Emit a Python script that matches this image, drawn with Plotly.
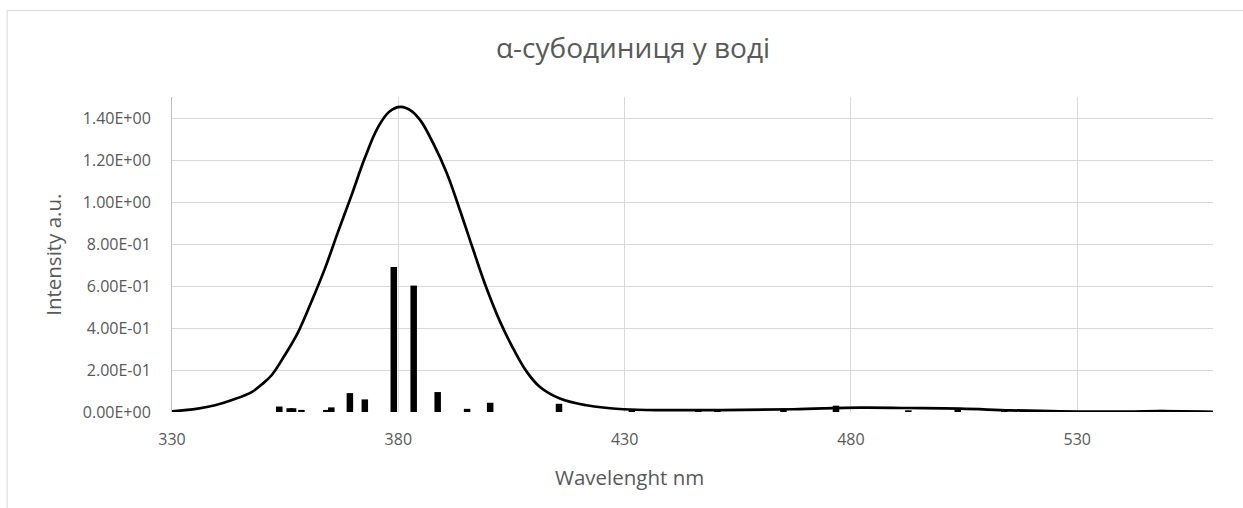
import plotly.graph_objects as go

# Broadened absorption envelope (wavelength in nm, intensity in a.u.)
curve_nm = [330, 335.7, 339.5, 343.1, 347.6, 349.8, 352.0, 354.9, 357.9,
            360.8, 363.8, 366.7, 369.7, 372.6, 375.5, 378.0, 380.5, 383.0, 385.0,
            387.7, 390.7, 393.6, 396.5, 399.5, 402.5, 405.4, 408.4, 411.3, 415.7,
            421.6, 429.7, 440.0, 451.1, 467.2, 482.0, 492.6, 504.1, 515.2, 526.2,
            541.0, 548.3, 560.0]
curve_int = [0.003, 0.016, 0.032, 0.056, 0.095, 0.131, 0.175, 0.270, 0.382,
             0.525, 0.684, 0.859, 1.034, 1.209, 1.355, 1.430, 1.453, 1.432, 1.385,
             1.280, 1.138, 0.962, 0.776, 0.589, 0.429, 0.302, 0.191, 0.119, 0.064,
             0.032, 0.013, 0.009, 0.009, 0.013, 0.021, 0.019, 0.016, 0.008, 0.003,
             0.002, 0.004, 0.001]

# Individual transitions (stick spectrum)
stick_nm = [353.7, 356.0, 356.75, 358.6, 364.1, 365.2, 369.3, 372.6, 379.0, 383.4,
            388.7, 395.2, 400.3, 415.5, 431.6, 446.3, 450.5, 465.1, 476.7, 492.7,
            503.6, 513.9, 548.6]
stick_int = [0.026, 0.018, 0.018, 0.010, 0.010, 0.022, 0.090, 0.060, 0.690, 0.602,
             0.095, 0.015, 0.044, 0.039, 0.008, 0.008, 0.008, 0.010, 0.030, 0.008,
             0.010, 0.008, 0.010]

y_tickvals = [0, 0.2, 0.4, 0.6, 0.8, 1.0, 1.2, 1.4]
y_ticktext = ["0.00E+00", "2.00E-01", "4.00E-01", "6.00E-01", "8.00E-01",
              "1.00E+00", "1.20E+00", "1.40E+00"]
x_tickvals = [330, 380, 430, 480, 530]

title_text = "α-субодиниця у воді"
x_title = "Wavelenght nm"
y_title = "Intensity a.u."

FONT = "Open Sans, Noto Sans, sans-serif"
GREY = "#595959"
GRID = "#d9d9d9"

# Stick segments from the baseline up to each intensity
seg_x, seg_y = [], []
for w, v in zip(stick_nm, stick_int):
    seg_x += [w, w, None]
    seg_y += [0, v, None]

fig = go.Figure()
fig.add_trace(go.Scatter(x=seg_x, y=seg_y, mode="lines",
                         line=dict(color="black", width=6.5),
                         hoverinfo="skip", showlegend=False))
fig.add_trace(go.Scatter(x=curve_nm, y=curve_int, mode="lines",
                         line=dict(color="black", width=2.7, shape="spline", smoothing=1.1),
                         showlegend=False))

W, H = 1243, 508
L, R, T, B = 172.3, 30, 97, 96.3
pw = W - L - R
ph = H - T - B


def px_x(px):
    return (px - L) / pw


def px_y(py):
    return (H - B - py) / ph


fig.update_layout(
    width=W, height=H,
    margin=dict(l=L, r=R, t=T, b=B, pad=0),
    paper_bgcolor="white", plot_bgcolor="white",
    font=dict(family=FONT, color=GREY, size=16),
    title=dict(text=title_text, x=633 / W, xref="container", xanchor="center",
               y=1 - 48 / H, yref="container", yanchor="middle",
               font=dict(family=FONT, size=28, color=GREY)),
    xaxis=dict(range=[330, 560], tickvals=x_tickvals, showgrid=True,
               gridcolor=GRID, gridwidth=1, zeroline=False, showline=False,
               ticks="", ticklabelstandoff=16,
               tickfont=dict(family=FONT, size=16, color=GREY)),
    yaxis=dict(range=[0, 1.5], tickvals=y_tickvals, ticktext=y_ticktext,
               showgrid=True, gridcolor=GRID, gridwidth=1, zeroline=False,
               showline=True, linecolor="#bfbfbf", linewidth=1,
               ticks="", ticklabelstandoff=17,
               tickfont=dict(family=FONT, size=16, color=GREY)),
    annotations=[
        dict(text=x_title, xref="paper", yref="paper", x=px_x(630), y=px_y(477),
             xanchor="center", yanchor="middle", showarrow=False,
             font=dict(family=FONT, size=20.5, color=GREY)),
        dict(text=y_title, xref="paper", yref="paper", x=px_x(53), y=px_y(255),
             xanchor="center", yanchor="middle", showarrow=False, textangle=-90,
             font=dict(family=FONT, size=20.5, color=GREY)),
    ],
    shapes=[
        dict(type="rect", xref="paper", yref="paper",
             x0=px_x(7.5), x1=px_x(1260), y0=px_y(530), y1=px_y(10.5),
             line=dict(color=GRID, width=1), fillcolor="rgba(0,0,0,0)", layer="below"),
    ],
)

fig.write_html("out.html")
